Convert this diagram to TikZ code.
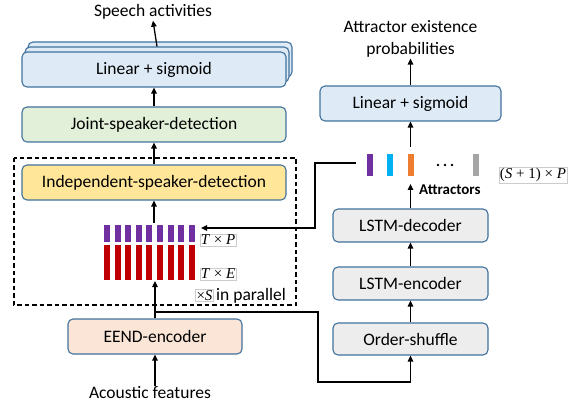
\documentclass[tikz,border=0pt]{standalone}
\usepackage{fontspec}
\setmainfont{Carlito}
\newfontfamily\tnr{Liberation Serif}
\usetikzlibrary{arrows.meta}
\definecolor{bord}{HTML}{41719C}
\definecolor{linblue}{HTML}{DEEBF7}
\definecolor{jgreen}{HTML}{E2F0D9}
\definecolor{iyellow}{HTML}{FFE699}
\definecolor{epeach}{HTML}{FBE5D6}
\definecolor{lgray}{HTML}{EDEDED}
\definecolor{purp}{HTML}{7030A0}
\definecolor{dred}{HTML}{C00000}
\definecolor{cyanb}{HTML}{00B0F0}
\definecolor{orng}{HTML}{ED7D31}
\definecolor{gbar}{HTML}{A5A5A5}
\begin{document}
\begin{tikzpicture}[x=1pt,y=-1pt,
  font=\fontsize{17.5}{20}\selectfont,
  box/.style={draw=bord, line width=1.1pt, rounded corners=5pt, inner sep=0pt},
  arr/.style={-{Triangle[length=6pt,width=5.5pt]}, line width=1.3pt},
  ln/.style={line width=1.3pt},
  mlab/.style={draw=black!20, line width=0.6pt, inner sep=1pt, font=\tnr\fontsize{15}{15}\selectfont}]
\useasboundingbox (0,0) rectangle (574,404);

% left column
\node[box, fill=linblue, minimum width=264pt, minimum height=35pt] (lin3) at (160,59.5) {};
\node[box, fill=linblue, minimum width=264pt, minimum height=35pt] (lin2) at (157,64.5) {};
\node[box, fill=linblue, minimum width=264pt, minimum height=35pt] (lin1) at (154,69.5) {Linear + sigmoid};
\node[box, fill=jgreen, minimum width=264pt, minimum height=35pt] (joint) at (154,124.5) {Joint-speaker-detection};
\node[box, fill=iyellow, minimum width=264pt, minimum height=35pt] (indep) at (154,182.5) {Independent-speaker-detection};
\node[box, fill=epeach, minimum width=174pt, minimum height=35pt] (eend) at (155,336.5) {EEND-encoder};
\node[inner sep=1pt] (speech) at (153,12) {Speech activities};
\node[inner sep=1pt] (acoustic) at (150,393) {Acoustic features};

\draw[line width=1.1pt, dash pattern=on 4.5pt off 3pt] (14,158) rectangle (296,305);

% bars
\foreach \i in {0,...,8} {
  \fill[purp] ({104+10.6*\i},225) rectangle ({110+10.6*\i},242);
  \fill[dred] ({104+10.6*\i},245) rectangle ({110+10.6*\i},280);
}
\node[mlab] (tp) at (218,240) {\textit{T} × \textit{P}};
\node[mlab] (te) at (218,274) {\textit{T} × \textit{E}};
\node[mlab] (xs) at (204.5,295.5) {×\textit{S}};
\node[anchor=west, inner sep=1pt] (par) at (215,295.5) {in parallel};

% right column
\node[box, fill=linblue, minimum width=181pt, minimum height=35pt] (rlin) at (410.5,103.5) {Linear + sigmoid};
\node[box, fill=lgray, minimum width=155pt, minimum height=33pt] (dec) at (410.5,225.5) {LSTM-decoder};
\node[box, fill=lgray, minimum width=155pt, minimum height=33pt] (enc) at (410.5,283.5) {LSTM-encoder};
\node[box, fill=lgray, minimum width=155pt, minimum height=32pt] (shuf) at (410.5,339) {Order-shuffle};
\node[align=center, inner sep=1pt, font=\fontsize{17.5}{22}\selectfont] (attex) at (410.5,39) {Attractor existence\\probabilities};
\node[anchor=west, inner sep=1pt, font=\bfseries\fontsize{15}{17}\selectfont] (attlab) at (418,190) {Attractors};

\fill[purp] (367,154) rectangle (373,176);
\fill[cyanb] (387,154) rectangle (393,176);
\fill[orng] (408,154) rectangle (414,176);
\fill[gbar] (473,154) rectangle (479,176);
\foreach \x in {438,445,452} \fill (\x,165) circle (1.4);
\node[mlab] (s1p) at (533,175) {(\textit{S} + 1) × \textit{P}};

% coordinates
\coordinate (pbtop) at (154,223);
\coordinate (rbbot) at (155,281);
\coordinate (br) at (155,312);
\coordinate (c1) at (318,382);
\coordinate (a0) at (356,163);
\coordinate (c2) at (315,228);
\coordinate (pbend) at (201,228);
\coordinate (atop) at (410.5,147);
\coordinate (abot) at (410.5,184);

% connectors
\draw[arr] (lin2.north) -- (speech.south);
\draw[arr] (joint.north) -- (lin1.south);
\draw[arr] (indep.north) -- (joint.south);
\draw[arr] (pbtop) -- (indep.south);
\draw[arr] (eend.north) -- (rbbot);
\draw[arr] (eend.south |- acoustic.north) -- (eend.south);
\draw[arr] (br) -| (c1) -| (shuf.south);
\draw[arr] (a0) -| (c2) -- (pbend);
\draw[arr] (shuf.north) -- (enc.south);
\draw[arr] (enc.north) -- (dec.south);
\draw[arr] (dec.north) -- (abot);
\draw[arr] (atop) -- (rlin.south);
\draw[arr] (rlin.north) -- (attex.south);
\end{tikzpicture}
\end{document}
